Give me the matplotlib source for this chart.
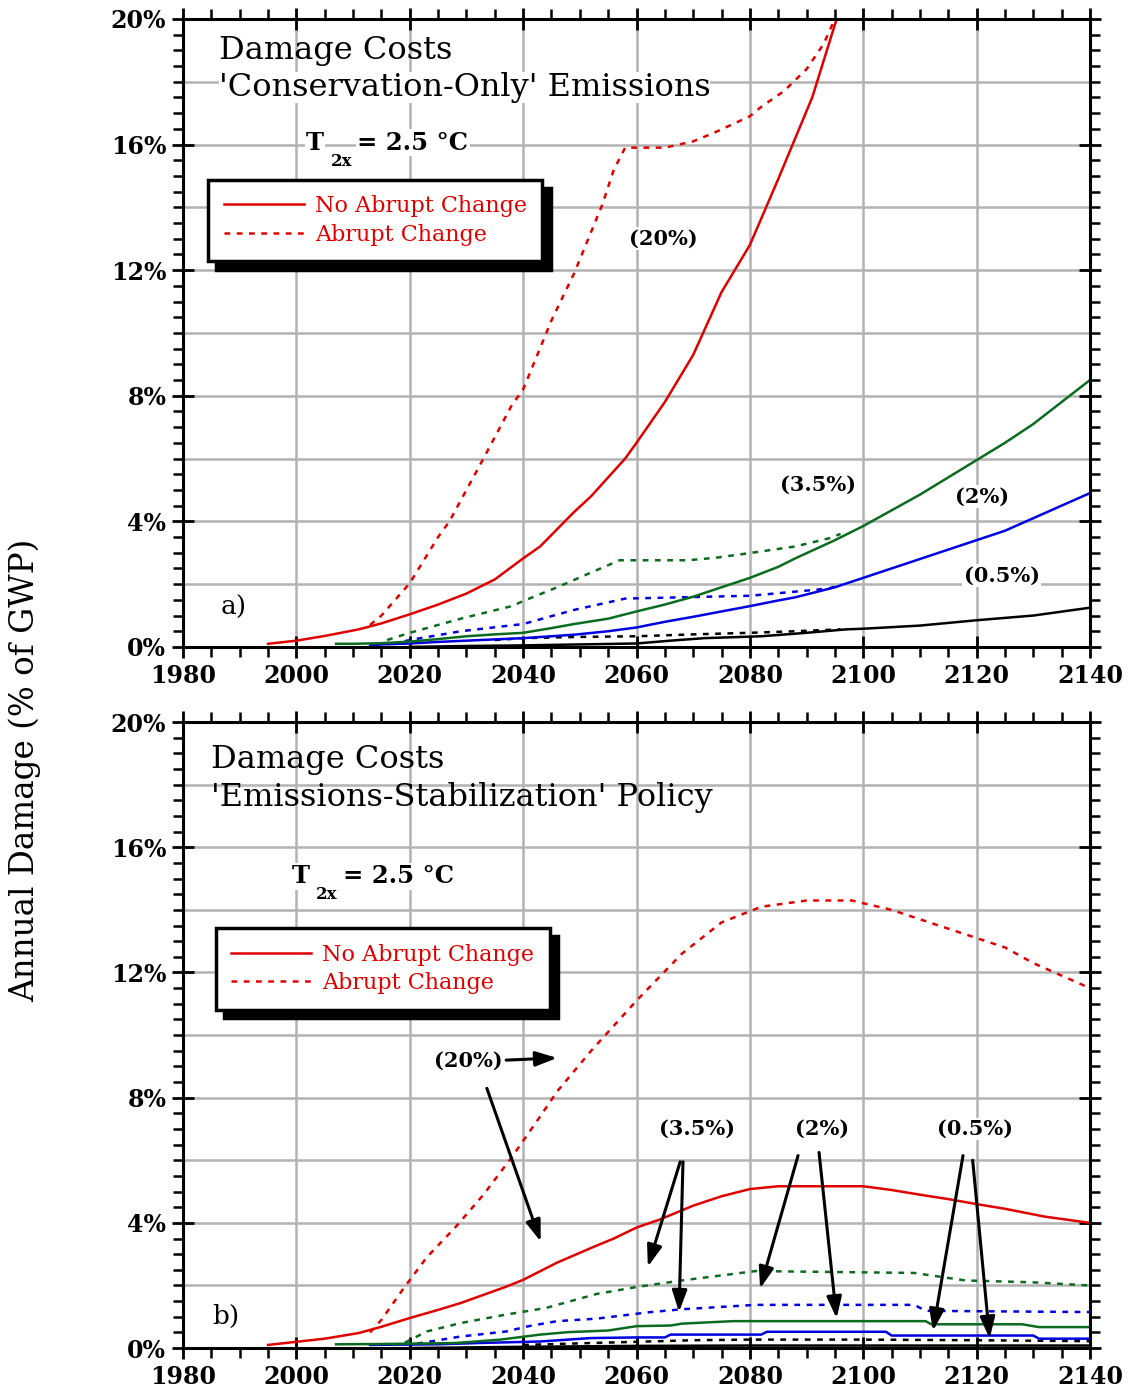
import numpy as np
import matplotlib
matplotlib.use('Agg')
import matplotlib.pyplot as plt
from matplotlib.ticker import MultipleLocator, FuncFormatter

plt.rcParams['font.family'] = ['DejaVu Serif']

RED = '#e00000'
GREEN = '#0b6b1e'
BLUE = '#0000e0'
BLACK = 'black'

# ---- panel a) 'Conservation-Only' emissions ----
a_red_yr = [1995, 2000, 2005, 2011, 2015, 2020, 2025, 2030, 2035, 2040, 2043, 2049, 2052, 2058,
            2060, 2065, 2070, 2075, 2080, 2085, 2088, 2091, 2096]
a_red = [0.1, 0.2, 0.35, 0.56, 0.75, 1.04, 1.35, 1.7, 2.15, 2.82, 3.2, 4.3, 4.8, 6.0,
         6.5, 7.8, 9.3, 11.3, 12.8, 14.9, 16.2, 17.5, 20.4]
a_red_ab_yr = [2013, 2015, 2020, 2025, 2027, 2033, 2038, 2040, 2045, 2049, 2054, 2056, 2058,
               2060, 2065, 2070, 2074, 2080, 2082, 2086, 2090, 2093, 2096]
a_red_ab = [0.7, 1.0, 2.03, 3.5, 4.0, 6.0, 7.7, 8.2, 10.4, 11.9, 14.1, 15.2, 15.9,
            15.9, 15.9, 16.1, 16.4, 16.9, 17.2, 17.7, 18.4, 19.2, 20.4]
a_grn_yr = [2007, 2010, 2015, 2020, 2025, 2030, 2035, 2040, 2045, 2049, 2055, 2060, 2065, 2070,
            2075, 2080, 2085, 2088, 2095, 2100, 2105, 2110, 2115, 2120, 2125, 2130, 2135, 2140]
a_grn = [0.1, 0.1, 0.12, 0.17, 0.25, 0.34, 0.4, 0.45, 0.6, 0.73, 0.9, 1.13, 1.35, 1.6,
         1.9, 2.2, 2.55, 2.82, 3.4, 3.85, 4.35, 4.85, 5.4, 5.95, 6.5, 7.1, 7.8, 8.5]
a_grn_ab_yr = [2016, 2020, 2029, 2038, 2040, 2046, 2052, 2057, 2069, 2074, 2080, 2088, 2094, 2096]
a_grn_ab = [0.22, 0.45, 0.9, 1.3, 1.46, 1.9, 2.37, 2.76, 2.76, 2.84, 2.99, 3.2, 3.46, 3.6]
a_blu_yr = [2013, 2015, 2020, 2025, 2030, 2035, 2040, 2045, 2049, 2055, 2060, 2065, 2070, 2075,
            2080, 2085, 2088, 2095, 2100, 2105, 2110, 2115, 2120, 2125, 2130, 2135, 2140]
a_blu = [0.05, 0.08, 0.11, 0.16, 0.2, 0.24, 0.28, 0.34, 0.39, 0.5, 0.62, 0.8, 0.96, 1.13,
         1.3, 1.48, 1.58, 1.9, 2.2, 2.5, 2.8, 3.1, 3.4, 3.7, 4.1, 4.5, 4.9]
a_blu_ab_yr = [2017, 2020, 2029, 2040, 2049, 2058, 2080, 2094, 2096]
a_blu_ab = [0.1, 0.22, 0.5, 0.73, 1.18, 1.54, 1.63, 1.86, 2.0]
a_blk_yr = [2020, 2030, 2040, 2050, 2060, 2066, 2072, 2082, 2090, 2097, 2100, 2110, 2120, 2130, 2140]
a_blk = [0.0, 0.03, 0.05, 0.08, 0.11, 0.2, 0.28, 0.34, 0.45, 0.56, 0.58, 0.68, 0.85, 1.0, 1.25]
a_blk_ab_yr = [2035, 2040, 2050, 2060, 2070, 2080, 2088, 2096]
a_blk_ab = [0.22, 0.28, 0.32, 0.34, 0.4, 0.45, 0.5, 0.56]

# ---- panel b) 'Emissions-Stabilization' policy ----
b_red_yr = [1995, 2000, 2005, 2011, 2015, 2020, 2025, 2029, 2033, 2037, 2040, 2046, 2052, 2056,
            2060, 2064, 2070, 2075, 2080, 2085, 2090, 2095, 2100, 2105, 2110, 2115, 2120, 2125,
            2132, 2140]
b_red = [0.1, 0.2, 0.3, 0.48, 0.68, 0.96, 1.22, 1.44, 1.7, 1.96, 2.18, 2.73, 3.2, 3.5,
         3.85, 4.1, 4.55, 4.85, 5.08, 5.17, 5.17, 5.17, 5.17, 5.05, 4.9, 4.76, 4.6, 4.45,
         4.2, 4.0]
b_red_ab_yr = [2013, 2015, 2019, 2023, 2028, 2033, 2038, 2043, 2046, 2052, 2060, 2068, 2075,
               2082, 2090, 2098, 2105, 2110, 2115, 2120, 2125, 2130, 2135, 2140]
b_red_ab = [0.5, 0.9, 1.93, 2.9, 3.85, 4.9, 6.1, 7.4, 8.2, 9.5, 11.1, 12.6, 13.6,
            14.1, 14.3, 14.3, 14.0, 13.7, 13.4, 13.1, 12.8, 12.3, 11.9, 11.5]
b_grn_yr = [2007, 2015, 2020, 2028, 2036, 2043, 2048, 2055, 2060, 2066, 2068, 2077, 2111, 2112,
            2128, 2131, 2140]
b_grn = [0.12, 0.13, 0.14, 0.16, 0.27, 0.43, 0.51, 0.56, 0.7, 0.72, 0.78, 0.86, 0.86, 0.76,
         0.76, 0.67, 0.67]
b_grn_ab_yr = [2017, 2019, 2023, 2029, 2037, 2044, 2053, 2060, 2068, 2081, 2109, 2118, 2130, 2140]
b_grn_ab = [0.1, 0.16, 0.53, 0.8, 1.07, 1.28, 1.73, 1.95, 2.16, 2.46, 2.4, 2.16, 2.1, 2.0]
b_blu_yr = [2013, 2025, 2032, 2043, 2052, 2060, 2065, 2066, 2082, 2083, 2104, 2105, 2130, 2131, 2140]
b_blu = [0.1, 0.12, 0.16, 0.21, 0.32, 0.34, 0.34, 0.43, 0.43, 0.52, 0.52, 0.4, 0.4, 0.3, 0.3]
b_blu_ab_yr = [2017, 2022, 2029, 2037, 2041, 2046, 2053, 2062, 2068, 2081, 2109, 2111, 2140]
b_blu_ab = [0.1, 0.16, 0.37, 0.53, 0.7, 0.86, 0.94, 1.14, 1.24, 1.38, 1.38, 1.19, 1.15]
b_blk_yr = [2020, 2040, 2060, 2080, 2100, 2120, 2140]
b_blk = [0.0, 0.04, 0.07, 0.08, 0.08, 0.08, 0.08]
b_blk_ab_yr = [2040, 2050, 2060, 2070, 2080, 2100, 2120, 2140]
b_blk_ab = [0.1, 0.15, 0.2, 0.25, 0.27, 0.27, 0.25, 0.22]

# arrows in panel b): (label, label pos, [(tail, head), ...])
b_notes = [
    ('(3.5%)', (2070.7, 7.0), [((2067.7, 5.95), (2062.0, 2.6)), ((2068.2, 5.95), (2067.5, 1.15))]),
    ('(2%)', (2092.7, 7.0), [((2088.5, 6.15), (2081.8, 1.9)), ((2092.2, 6.25), (2095.3, 0.95))]),
    ('(0.5%)', (2119.7, 7.0), [((2117.6, 6.15), (2112.3, 0.55)), ((2119.3, 6.0), (2122.3, 0.3))]),
]

fig = plt.figure(figsize=(11.34, 14.0), dpi=100)
ax_a = fig.add_axes([0.1614, 0.5379, 0.7998, 0.4486])
ax_b = fig.add_axes([0.1614, 0.0371, 0.7998, 0.4471])

dash = (0, (2.3, 2.6))
LW = 1.8


def style_axes(ax):
    ax.set_xlim(1980, 2140)
    ax.set_ylim(0, 20)
    ax.xaxis.set_major_locator(MultipleLocator(20))
    ax.xaxis.set_minor_locator(MultipleLocator(5))
    ax.yaxis.set_major_locator(MultipleLocator(4))
    ax.yaxis.set_minor_locator(MultipleLocator(0.5))
    ax.yaxis.set_major_formatter(FuncFormatter(lambda v, p: '%d%%' % v))
    ax.tick_params(which='major', direction='inout', length=16, width=2,
                   top=True, right=True, labelsize=17, pad=4)
    ax.tick_params(which='minor', direction='out', length=7, width=1.8,
                   top=True, right=True)
    for t in ax.get_xticklabels() + ax.get_yticklabels():
        t.set_fontweight('bold')
    for s in ax.spines.values():
        s.set_linewidth(2.2)
    for xv in range(2000, 2140, 20):
        ax.axvline(xv, color='#b3b3b3', lw=1.8, zorder=0)
    for yv in range(2, 20, 2):
        ax.axhline(yv, color='#b3b3b3', lw=1.8, zorder=0)


def t2x(ax, x, y):
    kw = dict(fontsize=17.5, fontweight='bold', va='center', ha='left',
              bbox=dict(facecolor='white', edgecolor='none', pad=1), zorder=4)
    ax.text(x, y, 'T', **kw)
    ax.text(x + 4.3, y - 0.58, '2x', fontsize=12, fontweight='bold', va='center',
            ha='left', zorder=5)
    ax.text(x + 9.0, y, '= 2.5 °C', **kw)


def draw(ax, s):
    ax.plot(s['blk_ab'][0], s['blk_ab'][1], color=BLACK, lw=LW, ls=dash)
    ax.plot(s['blk'][0], s['blk'][1], color=BLACK, lw=LW)
    ax.plot(s['blu_ab'][0], s['blu_ab'][1], color=BLUE, lw=LW, ls=dash)
    ax.plot(s['blu'][0], s['blu'][1], color=BLUE, lw=LW)
    ax.plot(s['grn_ab'][0], s['grn_ab'][1], color=GREEN, lw=LW, ls=dash)
    ax.plot(s['grn'][0], s['grn'][1], color=GREEN, lw=LW)
    ab, = ax.plot(s['red_ab'][0], s['red_ab'][1], color=RED, lw=LW, ls=dash)
    no, = ax.plot(s['red'][0], s['red'][1], color=RED, lw=LW)
    return [no, ab]


series_a = {'red': (a_red_yr, a_red), 'red_ab': (a_red_ab_yr, a_red_ab),
            'grn': (a_grn_yr, a_grn), 'grn_ab': (a_grn_ab_yr, a_grn_ab),
            'blu': (a_blu_yr, a_blu), 'blu_ab': (a_blu_ab_yr, a_blu_ab),
            'blk': (a_blk_yr, a_blk), 'blk_ab': (a_blk_ab_yr, a_blk_ab)}
series_b = {'red': (b_red_yr, b_red), 'red_ab': (b_red_ab_yr, b_red_ab),
            'grn': (b_grn_yr, b_grn), 'grn_ab': (b_grn_ab_yr, b_grn_ab),
            'blu': (b_blu_yr, b_blu), 'blu_ab': (b_blu_ab_yr, b_blu_ab),
            'blk': (b_blk_yr, b_blk), 'blk_ab': (b_blk_ab_yr, b_blk_ab)}

lbl = dict(fontsize=15, fontweight='bold', ha='center', va='center',
           bbox=dict(facecolor='white', edgecolor='none', pad=1), zorder=4)

# ---------- panel a ----------
style_axes(ax_a)
hand_a = draw(ax_a, series_a)
ax_a.text(1986.3, 19.0, 'Damage Costs', fontsize=23, va='center', ha='left')
ax_a.text(1986.3, 17.8, "'Conservation-Only' Emissions", fontsize=23, va='center', ha='left',
          bbox=dict(facecolor='white', edgecolor='none', pad=0))
t2x(ax_a, 2001.7, 16.05)
ax_a.text(2064.7, 13.0, '(20%)', **lbl)
ax_a.text(2092.0, 5.15, '(3.5%)', **lbl)
ax_a.text(2120.9, 4.78, '(2%)', **lbl)
ax_a.text(2124.4, 2.27, '(0.5%)', **lbl)
ax_a.text(1986.6, 1.25, 'a)', fontsize=19, va='center', ha='left')

# ---------- panel b ----------
style_axes(ax_b)
hand_b = draw(ax_b, series_b)
ax_b.text(1984.9, 18.8, 'Damage Costs', fontsize=23, va='center', ha='left')
ax_b.text(1984.9, 17.6, "'Emissions-Stabilization' Policy", fontsize=23, va='center', ha='left')
t2x(ax_b, 1999.2, 15.08)
ax_b.text(1985.2, 1.02, 'b)', fontsize=19, va='center', ha='left')

arr = dict(arrowstyle='-|>,head_length=1.3,head_width=0.45', color='black', lw=2.2,
           shrinkA=0, shrinkB=0)
ax_b.text(2030.4, 9.17, '(20%)', **lbl)
ax_b.annotate('', xy=(2046.0, 9.27), xytext=(2037.0, 9.2), arrowprops=arr)
ax_b.annotate('', xy=(2043.1, 3.4), xytext=(2033.6, 8.3), arrowprops=arr)
for txt, pos, arrows in b_notes:
    ax_b.text(pos[0], pos[1], txt, **lbl)
    for tail, head in arrows:
        ax_b.annotate('', xy=head, xytext=tail, arrowprops=arr)

# legends
for ax, hand, anchor in [(ax_a, hand_a, (0.0276, 0.744)), (ax_b, hand_b, (0.036, 0.671))]:
    leg = ax.legend(hand, ['No Abrupt Change', 'Abrupt Change'], loc='upper left',
                    bbox_to_anchor=anchor, borderaxespad=0, fontsize=16, labelcolor=RED,
                    handlelength=3.6, handletextpad=0.5, labelspacing=0.3, borderpad=0.7,
                    fancybox=False, framealpha=1, edgecolor='black',
                    shadow={'color': 'black', 'alpha': 1, 'ox': 6, 'oy': -6})
    leg.get_frame().set_linewidth(2.5)
    leg.set_zorder(6)

fig.text(0.022, 0.45, 'Annual Damage (% of GWP)', rotation=90, fontsize=23.5,
         va='center', ha='center')

fig.savefig('out.png', dpi=100)
